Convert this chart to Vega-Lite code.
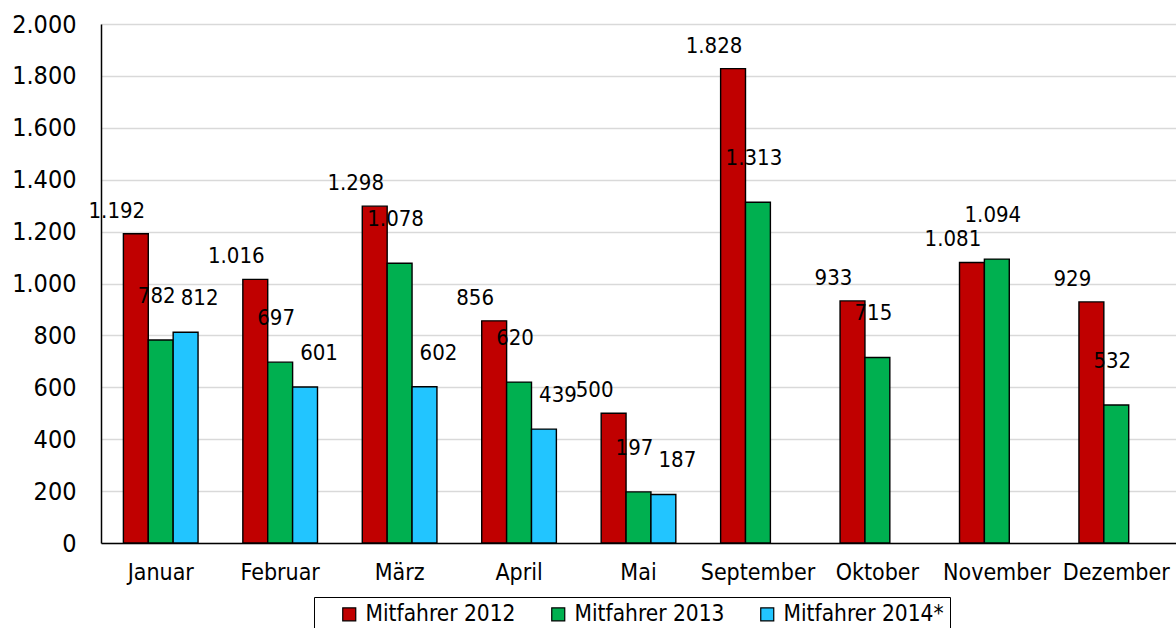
{
  "$schema": "https://vega.github.io/schema/vega-lite/v6.json",
  "autosize": {"type": "none"},
  "padding": {"left": 101, "top": 24, "right": 0, "bottom": 85},
  "width": 1075,
  "height": 519,
  "background": "white",
  "config": {
    "font": "DejaVu Sans Condensed",
    "view": {"stroke": null},
    "locale": {"number": {"decimal": ",", "thousands": ".", "grouping": [3], "currency": ["", " €"]}}
  },
  "data": {
    "values": [
      {"month": "Januar", "series": "Mitfahrer 2012", "value": 1192},
      {"month": "Januar", "series": "Mitfahrer 2013", "value": 782},
      {"month": "Januar", "series": "Mitfahrer 2014*", "value": 812},
      {"month": "Februar", "series": "Mitfahrer 2012", "value": 1016},
      {"month": "Februar", "series": "Mitfahrer 2013", "value": 697},
      {"month": "Februar", "series": "Mitfahrer 2014*", "value": 601},
      {"month": "März", "series": "Mitfahrer 2012", "value": 1298},
      {"month": "März", "series": "Mitfahrer 2013", "value": 1078},
      {"month": "März", "series": "Mitfahrer 2014*", "value": 602},
      {"month": "April", "series": "Mitfahrer 2012", "value": 856},
      {"month": "April", "series": "Mitfahrer 2013", "value": 620},
      {"month": "April", "series": "Mitfahrer 2014*", "value": 439},
      {"month": "Mai", "series": "Mitfahrer 2012", "value": 500},
      {"month": "Mai", "series": "Mitfahrer 2013", "value": 197},
      {"month": "Mai", "series": "Mitfahrer 2014*", "value": 187},
      {"month": "September", "series": "Mitfahrer 2012", "value": 1828},
      {"month": "September", "series": "Mitfahrer 2013", "value": 1313},
      {"month": "Oktober", "series": "Mitfahrer 2012", "value": 933},
      {"month": "Oktober", "series": "Mitfahrer 2013", "value": 715},
      {"month": "November", "series": "Mitfahrer 2012", "value": 1081},
      {"month": "November", "series": "Mitfahrer 2013", "value": 1094},
      {"month": "Dezember", "series": "Mitfahrer 2012", "value": 929},
      {"month": "Dezember", "series": "Mitfahrer 2013", "value": 532}
    ]
  },
  "encoding": {
    "x": {
      "field": "month", "type": "nominal",
      "sort": ["Januar", "Februar", "März", "April", "Mai", "September", "Oktober", "November", "Dezember"],
      "scale": {"paddingInner": 0.375, "paddingOuter": 0.1875},
      "axis": {"title": null, "labelAngle": 0, "ticks": false, "domainColor": "#000000", "domainWidth": 1.5, "labelFontSize": 23, "labelColor": "#000000", "labelPadding": 18, "grid": false}
    },
    "xOffset": {
      "field": "series", "type": "nominal",
      "sort": ["Mitfahrer 2012", "Mitfahrer 2013", "Mitfahrer 2014*"],
      "scale": {"domain": ["Mitfahrer 2012", "Mitfahrer 2013", "Mitfahrer 2014*"], "paddingInner": 0, "paddingOuter": 0}
    },
    "y": {
      "field": "value", "type": "quantitative",
      "scale": {"domain": [0, 2000], "nice": false},
      "axis": {"title": null, "values": [0, 200, 400, 600, 800, 1000, 1200, 1400, 1600, 1800, 2000], "format": ",d", "ticks": false, "domainColor": "#000000", "domainWidth": 1.5, "gridColor": "#d9d9d9", "gridWidth": 1.5, "labelFontSize": 25, "labelColor": "#000000", "labelPadding": 25}
    }
  },
  "layer": [
    {
      "mark": {"type": "bar", "stroke": "#000000", "strokeWidth": 1.4},
      "encoding": {
        "color": {
          "field": "series", "type": "nominal",
          "sort": ["Mitfahrer 2012", "Mitfahrer 2013", "Mitfahrer 2014*"],
          "scale": {"domain": ["Mitfahrer 2012", "Mitfahrer 2013", "Mitfahrer 2014*"], "range": ["#C00000", "#00B050", "#22C5FF"]},
          "legend": {
            "title": "\u00a0", "titleOrient": "left", "titlePadding": 18, "titleFontSize": 22,
            "orient": "none", "legendX": 213, "legendY": 573, "direction": "horizontal",
            "symbolType": "square", "symbolSize": 169, "symbolStrokeColor": "#000000", "symbolStrokeWidth": 1.2,
            "labelFontSize": 22.5, "labelColor": "#000000", "labelOffset": 5, "columnPadding": 31, "labelLimit": 400,
            "labelExpr": "datum.label == 'Mitfahrer 2014*' ? datum.label + '\u00a0\u00a0\u00a0' : datum.label",
            "strokeColor": "#000000", "padding": 6, "fillColor": "white"
          }
        }
      }
    },
    {
      "transform": [{"filter": "datum.series == 'Mitfahrer 2012'"}],
      "mark": {"type": "text", "baseline": "bottom", "dx": -19, "dy": -11, "fontSize": 22, "color": "#000000"},
      "encoding": {"text": {"field": "value", "type": "quantitative", "format": ",d"}}
    },
    {
      "transform": [{"filter": "datum.series == 'Mitfahrer 2013'"}],
      "mark": {"type": "text", "baseline": "bottom", "dx": -4, "dy": -32, "fontSize": 22, "color": "#000000"},
      "encoding": {"text": {"field": "value", "type": "quantitative", "format": ",d"}}
    },
    {
      "transform": [{"filter": "datum.series == 'Mitfahrer 2014*'"}],
      "mark": {"type": "text", "baseline": "bottom", "dx": 14, "dy": -22, "fontSize": 22, "color": "#000000"},
      "encoding": {"text": {"field": "value", "type": "quantitative", "format": ",d"}}
    }
  ]
}
